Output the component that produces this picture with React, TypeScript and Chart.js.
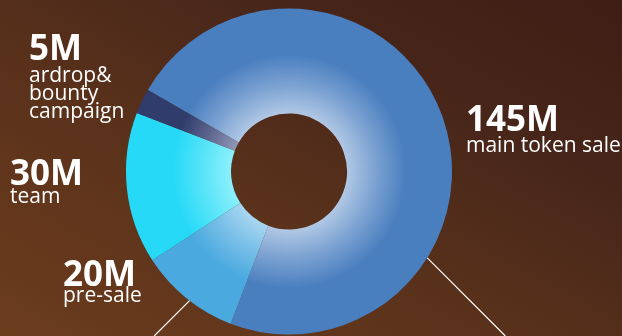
import { useEffect, useRef } from "react";
import { Chart, registerables } from "chart.js";

Chart.register(...registerables);

// ---- data ----
const categories = ["main token sale", "pre-sale", "team", "ardrop& bounty campaign"];
const values = [145, 20, 30, 5];
const valueLabels = ["145M", "20M", "30M", "5M"];
const labelLines = [["main token sale"], ["pre-sale"], ["team"], ["ardrop&", "bounty", "campaign"]];

// ---- styles ----
const baseColors = ["#4a7fbf", "#4aa9df", "#25d9f7", "#303c6c"];
const innerColors = ["#b0c8e4", "#a8d6f0", "#8cf0fb", "#9097b8"];
const midColors = ["#7ca2d2", "#78bfe8", "#58e4f9", "#5f6890"];
const textPos = [
  { x: 466, num: 131, lines: [152] },
  { x: 63, num: 286, lines: [302] },
  { x: 10, num: 185, lines: [203] },
  { x: 29, num: 60, lines: [82, 100, 118] },
];
const pointerAngles = [32, 127.6];
const pointerDirs = [1, -1];

const W = 622;
const H = 336;

export default function App() {
  const ref = useRef<HTMLCanvasElement | null>(null);

  useEffect(() => {
    const canvas = ref.current;
    if (!canvas) return;

    const overlay = {
      id: "overlay",
      afterDraw(chart: any) {
        const ctx = chart.ctx;
        const meta = chart.getDatasetMeta(0);
        const arc = meta.data[0];
        const cx = arc.x;
        const cy = arc.y;
        const R = arc.outerRadius;
        ctx.save();
        // pointer lines
        ctx.strokeStyle = "#ffffff";
        ctx.lineWidth = 1.2;
        pointerAngles.forEach((a, i) => {
          const rad = (a * Math.PI) / 180;
          const sx = cx + R * Math.cos(rad);
          const sy = cy + R * Math.sin(rad);
          const len = H - sy;
          ctx.beginPath();
          ctx.moveTo(sx, sy);
          ctx.lineTo(sx + pointerDirs[i] * len, sy + len);
          ctx.stroke();
        });
        // texts
        ctx.fillStyle = "#ffffff";
        ctx.textAlign = "left";
        ctx.textBaseline = "alphabetic";
        valueLabels.forEach((v, i) => {
          const p = textPos[i];
          ctx.font = "bold 35px 'Open Sans'";
          ctx.fillText(v, p.x, p.num);
          ctx.font = "21px 'Open Sans'";
          labelLines[i].forEach((t, j) => {
            ctx.fillText(t, p.x, p.lines[j]);
          });
        });
        ctx.restore();
      },
    };

    const chart = new Chart(canvas, {
      type: "doughnut",
      data: {
        labels: categories,
        datasets: [
          {
            data: values,
            borderWidth: 0,
            hoverOffset: 0,
            backgroundColor: (c: any) => {
              const i = c.dataIndex;
              const chartArea = c.chart.chartArea;
              if (!chartArea) return baseColors[i];
              const cx = (chartArea.left + chartArea.right) / 2;
              const cy = (chartArea.top + chartArea.bottom) / 2;
              const g = c.chart.ctx.createRadialGradient(cx, cy, 58, cx, cy, 163);
              g.addColorStop(0, innerColors[i]);
              g.addColorStop(0.27, midColors[i]);
              g.addColorStop(0.56, baseColors[i]);
              g.addColorStop(1, baseColors[i]);
              return g;
            },
          },
        ],
      },
      options: {
        responsive: false,
        animation: false,
        events: [],
        rotation: 300,
        cutout: 58,
        layout: { padding: { top: 8.5, bottom: 1.5, left: 0, right: 44 } },
        plugins: { legend: { display: false }, tooltip: { enabled: false } },
      },
      plugins: [overlay],
    });
    return () => chart.destroy();
  }, []);

  return (
    <div
      style={{
        position: "fixed",
        left: 0,
        top: 0,
        width: W,
        height: H,
        background: "linear-gradient(to top right, #6c3c1d 0%, #5a321b 40%, #48261a 70%, #3e1d14 100%)",
      }}
    >
      <canvas ref={ref} width={W} height={H} style={{ display: "block" }} />
    </div>
  );
}
